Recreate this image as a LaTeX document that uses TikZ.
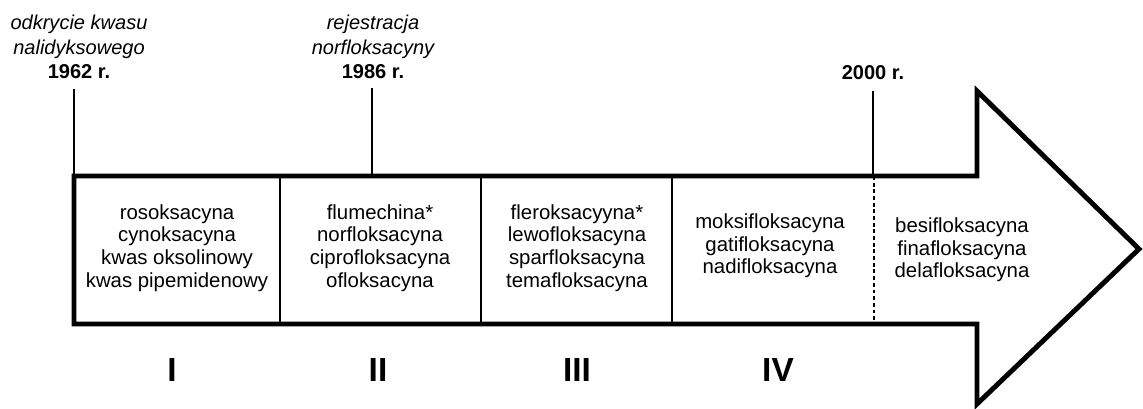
\documentclass[tikz,border=0pt]{standalone}
\usepackage{fontspec}
\setmainfont{Liberation Sans}
\usetikzlibrary{positioning}

\tikzset{
  druglist/.style={align=center, inner sep=0pt, font=\fontsize{11.6}{12.9}\selectfont},
  eventtext/.style={align=center, inner sep=0pt, font=\fontsize{11.4}{14.2}\selectfont\itshape},
  yeartext/.style={inner sep=0pt, font=\fontsize{11.4}{12.9}\selectfont\bfseries},
  gentext/.style={inner sep=0pt, font=\fontsize{19}{20}\selectfont\bfseries},
  tickline/.style={line width=1.2pt},
  divline/.style={line width=1.2pt}
}

\begin{document}
\begin{tikzpicture}[x=0.02cm, y=-0.02cm]
		\useasboundingbox (0,0) rectangle (1143,409);
		
		% Arrow outline
		\coordinate (A) at (74,176);
		\coordinate (B) at (977,176);
		\coordinate (C) at (977,91);
		\coordinate (D) at (1139,249);
		\coordinate (E) at (977,404);
		\coordinate (F) at (977,324);
		\coordinate (G) at (74,324);
		\draw[line width=2.8pt, line join=miter] (A) -- (B) -- (C) -- (D) -- (E) -- (F) -- (G) -- cycle;
		
		% Dividers
		\draw[divline] (280,176) -- (280,324);
		\draw[divline] (481,176) -- (481,324);
		\draw[divline] (672,176) -- (672,324);
		\draw[divline, dotted, line cap=butt, dash pattern=on 2.2pt off 1.6pt] (874,176) -- (874,324);
		
		% Events
		\node[yeartext] (y1962) at (79,72) {1962 r.};
		\node[eventtext, above=3pt of y1962] (e1962) {odkrycie kwasu\\nalidyksowego};
		\node[yeartext] (y1986) at (373,72) {1986 r.};
		\node[eventtext, above=3pt of y1986] (e1986) {rejestracja\\norfloksacyny};
		\node[yeartext] (y2000) at (873,73) {2000 r.};
		
		\coordinate (t1962) at (74,89);
		\coordinate (t1986) at (372,88);
		\coordinate (t2000) at (873,91);
		\draw[tickline] (t1962) -- (74,176);
		\draw[tickline] (t1986) -- (372,176);
		\draw[tickline] (t2000) -- (873,176);
		
		% Drug lists
		\node[druglist] (g1) at (177,248) {rosoksacyna\\cynoksacyna\\kwas oksolinowy\\kwas pipemidenowy};
		\node[druglist] (g2) at (380,248) {flumechina*\\norfloksacyna\\ciprofloksacyna\\ofloksacyna};
		\node[druglist] (g3) at (577,248) {fleroksacyyna*\\lewofloksacyna\\sparfloksacyna\\temafloksacyna};
		\node[druglist] (g4) at (770,246) {moksifloksacyna\\gatifloksacyna\\nadifloksacyna};
		\node[druglist] (g5) at (962,250) {besifloksacyna\\finafloksacyna\\delafloksacyna};
		
		% Generations
		\node[gentext] (n1) at (172,370) {I};
		\node[gentext] (n2) at (378,370) {II};
		\node[gentext] (n3) at (577,370) {III};
		\node[gentext] (n4) at (778,370) {IV};
		
	\end{tikzpicture}
\end{document}
